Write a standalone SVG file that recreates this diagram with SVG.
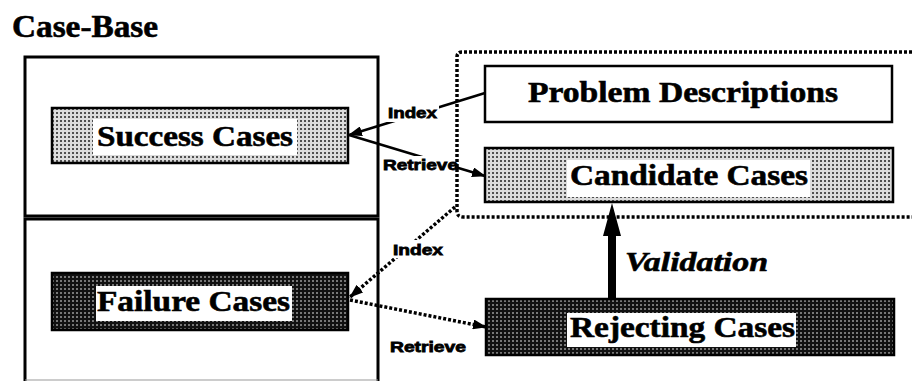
<svg xmlns="http://www.w3.org/2000/svg" width="912" height="381" viewBox="0 0 912 381">
<style>
.box{stroke:#000;stroke-width:2.5}
.big{font-family:"Liberation Serif","Times New Roman",serif;font-weight:bold;font-size:30px;fill:#000;stroke:#000;stroke-width:0.6}
.lbl{font-family:"Liberation Sans",Arial,sans-serif;font-weight:bold;font-size:15px;fill:#000;stroke:#000;stroke-width:0.8}
.solid{fill:none;stroke:#000;stroke-width:2.5}
.dot{fill:none;stroke:#000;stroke-width:3.5;stroke-dasharray:3 2}
.wbg{fill:#fff}
</style>
<defs>
<pattern id="light" width="4" height="4" patternUnits="userSpaceOnUse">
<rect width="4" height="4" fill="#dcdcdc"/>
<rect width="2" height="2" fill="#505050"/>
</pattern>
<pattern id="dark" width="4" height="4" patternUnits="userSpaceOnUse">
<rect width="4" height="4" fill="#111"/>
<rect width="2" height="2" fill="#777"/>
</pattern>
<marker id="ah" markerUnits="userSpaceOnUse" markerWidth="14" markerHeight="10" viewBox="0 0 14 10" refX="13" refY="5" orient="auto">
<path d="M0,0 L14,5 L0,10 z" fill="#000"/>
</marker>
</defs>
<rect width="912" height="381" fill="#fff"/>

<text x="12" y="37" class="big" style="font-size:32px" textLength="146" lengthAdjust="spacingAndGlyphs">Case-Base</text>

<g id="casebase-upper">
<rect x="25" y="57" width="353" height="159" fill="#fff" stroke="#000" stroke-width="3"/>
</g>
<g id="casebase-lower">
<path d="M25 381 V219 H378 V381" fill="#fff" stroke="#000" stroke-width="3"/>
<line x1="25" y1="380" x2="378" y2="380" stroke="#999" stroke-width="1"/>
</g>
<g id="workspace">
<path d="M912 52 H462 Q457 52 457 57 V211 Q457 217 463 217 H912" class="dot"/>
</g>

<g id="success">
<rect x="52" y="108" width="296" height="55" fill="url(#light)" class="box"/>
<rect x="93" y="119" width="204" height="36" class="wbg"/>
<text x="97" y="146" class="big" textLength="196" lengthAdjust="spacingAndGlyphs">Success Cases</text>
</g>
<g id="failure">
<rect x="52" y="273" width="296" height="57" fill="url(#dark)" class="box"/>
<rect x="96" y="286" width="196" height="35" class="wbg"/>
<text x="97" y="311" class="big" textLength="193" lengthAdjust="spacingAndGlyphs">Failure Cases</text>
</g>
<g id="problem">
<rect x="485" y="66" width="407" height="56" fill="#fff" class="box"/>
<text x="528" y="102" class="big" textLength="310" lengthAdjust="spacingAndGlyphs">Problem Descriptions</text>
</g>
<g id="candidate">
<rect x="485" y="148" width="408" height="54" fill="url(#light)" class="box"/>
<rect x="567" y="160" width="243" height="37" class="wbg"/>
<text x="570" y="185" class="big" textLength="238" lengthAdjust="spacingAndGlyphs">Candidate Cases</text>
</g>
<g id="rejecting">
<rect x="486" y="299" width="408" height="56" fill="url(#dark)" class="box"/>
<rect x="567" y="313" width="229" height="34" class="wbg"/>
<text x="570" y="337" class="big" textLength="225" lengthAdjust="spacingAndGlyphs">Rejecting Cases</text>
</g>

<g id="connectors">
<line x1="485" y1="93" x2="349" y2="135" class="solid" marker-end="url(#ah)"/>
<line x1="349" y1="135" x2="485" y2="176" class="solid" marker-end="url(#ah)"/>
<line x1="455" y1="207" x2="350" y2="297" class="dot" marker-end="url(#ah)"/>
<line x1="350" y1="300" x2="486" y2="327" class="dot" marker-end="url(#ah)"/>
<rect x="608" y="232" width="8" height="67" fill="#000"/>
<polygon points="612,203 603,236 621,236" fill="#000"/>
<rect x="386" y="105" width="53" height="17" class="wbg"/>
<text x="388" y="118" class="lbl" textLength="49" lengthAdjust="spacingAndGlyphs">Index</text>
<rect x="381" y="156" width="74" height="17" class="wbg"/>
<text x="383" y="170" class="lbl" textLength="75" lengthAdjust="spacingAndGlyphs">Retrieve</text>
<rect x="391" y="240" width="54" height="18" class="wbg"/>
<text x="393" y="255" class="lbl" textLength="50" lengthAdjust="spacingAndGlyphs">Index</text>
<text x="390" y="352" class="lbl" textLength="76" lengthAdjust="spacingAndGlyphs">Retrieve</text>
<text x="625" y="271" class="big" style="font-size:27px;font-style:italic" textLength="143" lengthAdjust="spacingAndGlyphs">Validation</text>
</g>
</svg>
